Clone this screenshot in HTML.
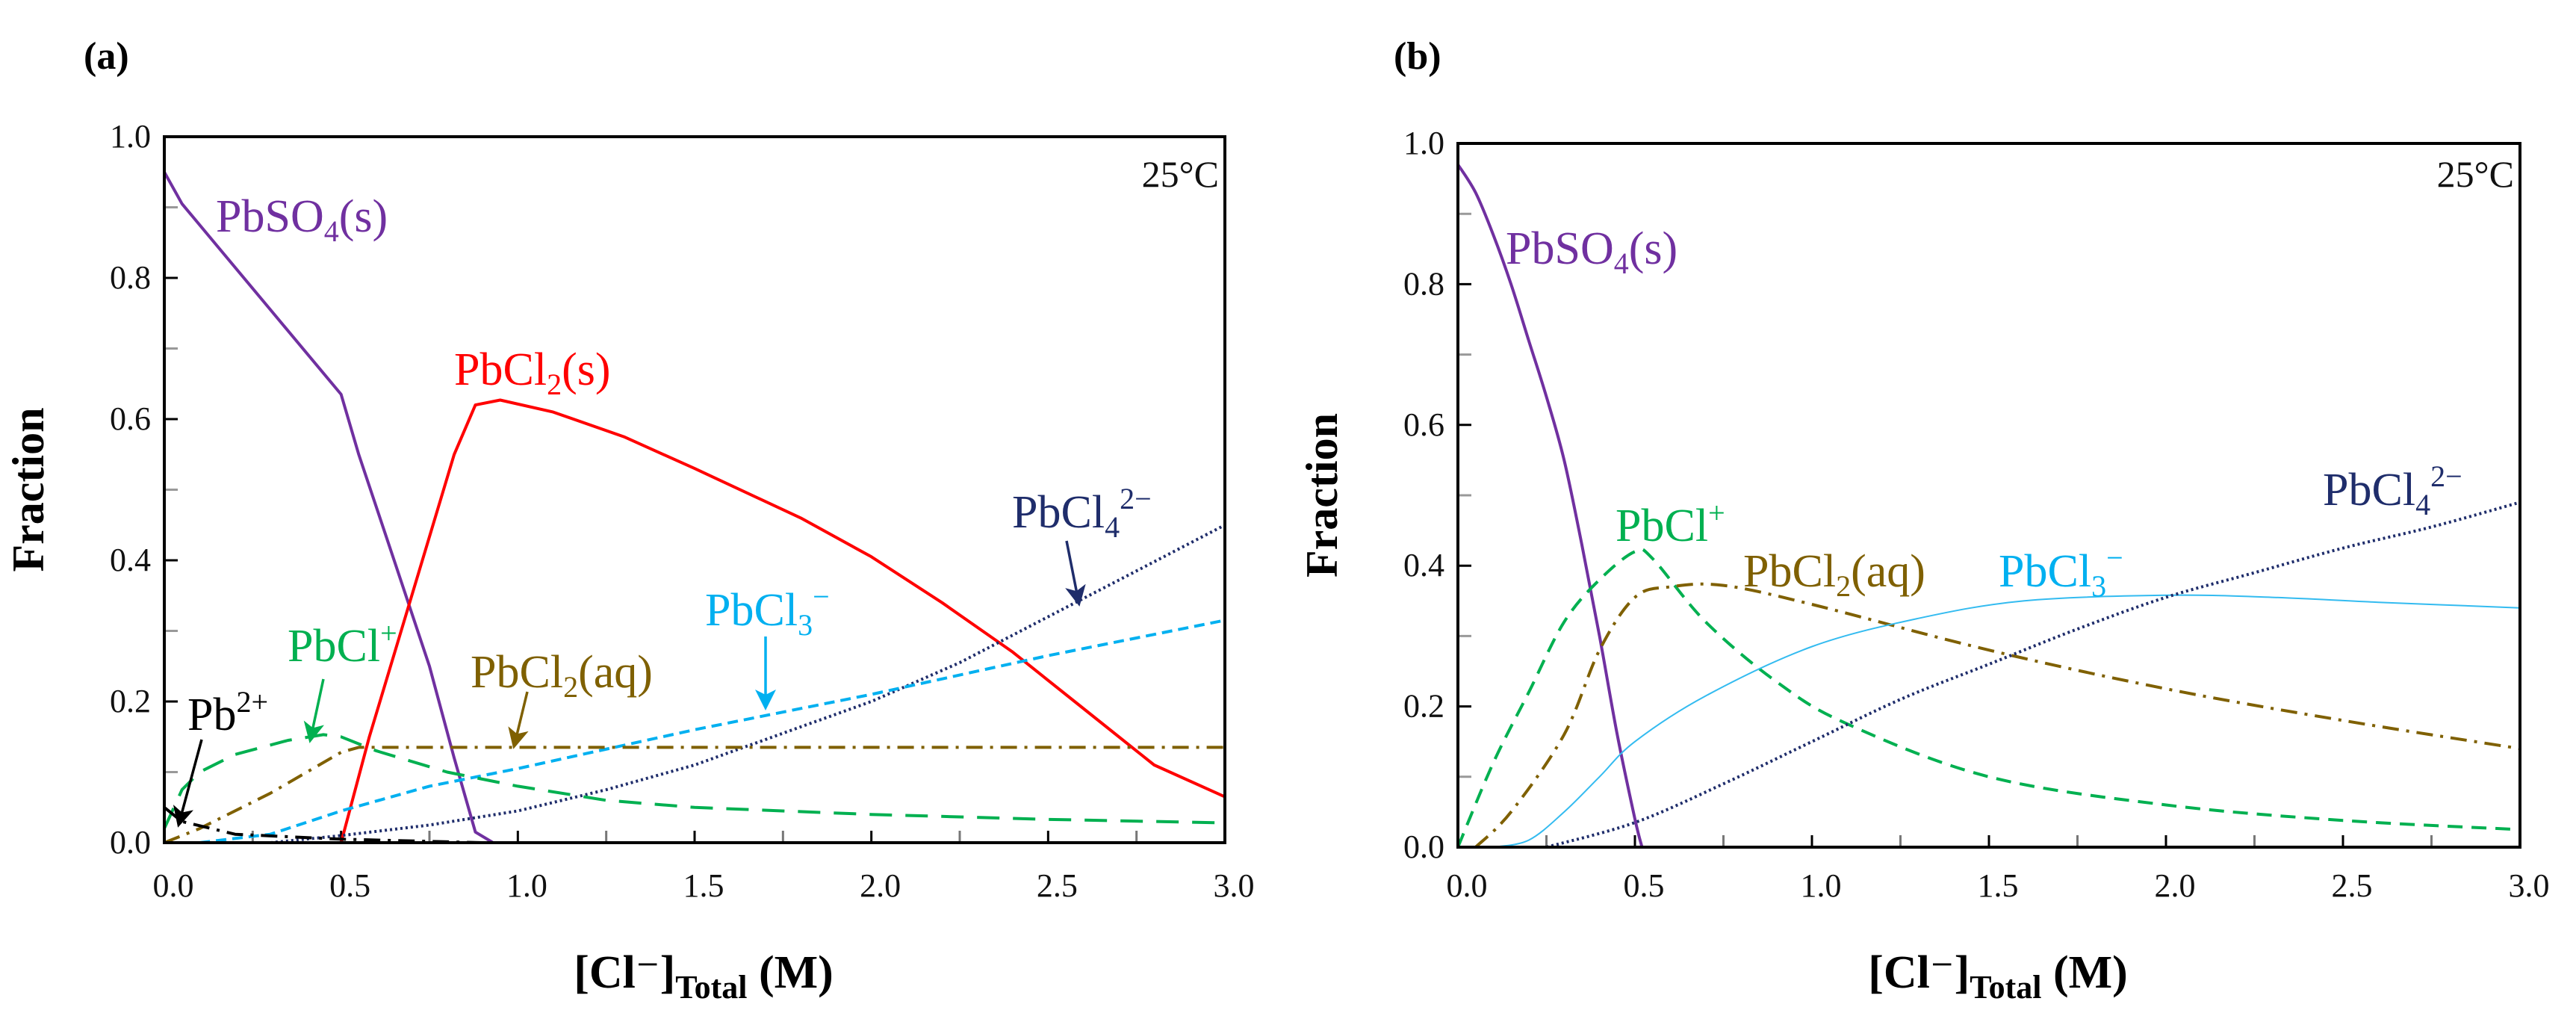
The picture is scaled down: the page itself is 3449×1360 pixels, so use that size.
<!DOCTYPE html>
<html><head><meta charset="utf-8"><style>
html,body{margin:0;padding:0;background:#fff;}
svg{display:block;font-family:"Liberation Serif",serif;}
</style></head><body>
<svg id="fig" width="3449" height="1360" viewBox="0 0 3449 1360" xmlns="http://www.w3.org/2000/svg">
<defs>
<marker id="ah" markerWidth="8" markerHeight="8" refX="6" refY="4" orient="auto" markerUnits="strokeWidth"><path d="M0,0 L8,4 L0,8 L2,4 Z" fill="context-stroke"/></marker>
</defs>
</svg>
<script>
// ---- data: panel (a) ----
const aPbSO4x=[0,0.05,0.15,0.3,0.5,0.55,0.65,0.75,0.82,0.88,0.93];
const aPbSO4y=[0.95,0.905,0.845,0.755,0.635,0.55,0.40,0.25,0.12,0.015,0];
const aPbCl2sx=[0.5,0.58,0.7,0.82,0.88,0.95,1.1,1.3,1.5,1.8,2.0,2.2,2.4,2.6,2.8,3.0];
const aPbCl2sy=[0,0.15,0.35,0.55,0.62,0.627,0.61,0.575,0.53,0.46,0.405,0.34,0.27,0.19,0.11,0.065];
const aPbCl4x=[0.3,0.5,0.75,1.0,1.25,1.5,1.75,2.0,2.25,2.5,2.75,3.0];
const aPbCl4y=[0,0.01,0.025,0.045,0.075,0.11,0.155,0.2,0.255,0.32,0.385,0.45];
const aPbCl3x=[0.1,0.3,0.5,0.75,1.0,1.5,2.0,2.5,3.0];
const aPbCl3y=[0,0.012,0.045,0.08,0.105,0.16,0.21,0.265,0.315];
const aPbClx=[0,0.05,0.1,0.2,0.35,0.45,0.5,0.6,0.8,1.0,1.25,1.5,2.0,2.5,3.0];
const aPbCly=[0.02,0.075,0.1,0.125,0.145,0.153,0.15,0.13,0.1,0.08,0.06,0.05,0.04,0.033,0.028];
const aPbCl2aqx=[0,0.1,0.3,0.5,0.55,3.0];
const aPbCl2aqy=[0,0.02,0.07,0.128,0.135,0.135];
const aPb2x=[0,0.05,0.2,0.5,0.9];
const aPb2y=[0.05,0.03,0.012,0.005,0];
// ---- data: panel (b) ----
const bPbSO4x=[0,0.05,0.1,0.15,0.2,0.25,0.3,0.35,0.4,0.45,0.5,0.52];
const bPbSO4y=[0.97,0.93,0.87,0.80,0.72,0.64,0.55,0.43,0.30,0.16,0.04,0];
const bPbClx=[0,0.1,0.2,0.3,0.4,0.5,0.55,0.7,0.9,1.1,1.5,2.0,2.5,3.0];
const bPbCly=[0,0.12,0.22,0.32,0.38,0.42,0.41,0.32,0.235,0.175,0.1,0.06,0.038,0.025];
const bPbCl2aqx=[0.05,0.15,0.3,0.4,0.5,0.6,0.75,1.0,1.5,2.0,2.5,3.0];
const bPbCl2aqy=[0,0.05,0.16,0.28,0.355,0.37,0.372,0.345,0.28,0.225,0.18,0.14];
const bPbCl3x=[0.1,0.2,0.3,0.4,0.5,0.7,1.0,1.3,1.6,2.0,2.3,2.6,3.0];
const bPbCl3y=[0,0.01,0.05,0.1,0.15,0.215,0.285,0.325,0.35,0.358,0.355,0.348,0.34];
const bPbCl4x=[0.25,0.5,0.75,1.0,1.25,1.5,1.75,2.0,2.25,2.5,2.75,3.0];
const bPbCl4y=[0,0.035,0.09,0.15,0.21,0.26,0.31,0.355,0.39,0.425,0.455,0.49];
const xTicks=["0.0","0.5","1.0","1.5","2.0","2.5","3.0"];
const yTicks=["0.0","0.2","0.4","0.6","0.8","1.0"];

const NS="http://www.w3.org/2000/svg";
const svg=document.getElementById('fig');
function mk(tag,attrs,parent){const e=document.createElementNS(NS,tag);for(const k in attrs)e.setAttribute(k,attrs[k]);(parent||svg).appendChild(e);return e;}
function smoothPath(pts){
  let d='M'+pts[0][0].toFixed(1)+','+pts[0][1].toFixed(1);
  for(let i=0;i<pts.length-1;i++){
    const p0=pts[i-1]||pts[i],p1=pts[i],p2=pts[i+1],p3=pts[i+2]||p2;
    const c1=[p1[0]+(p2[0]-p0[0])/6,p1[1]+(p2[1]-p0[1])/6];
    const c2=[p2[0]-(p3[0]-p1[0])/6,p2[1]-(p3[1]-p1[1])/6];
    d+=` C${c1[0].toFixed(1)},${c1[1].toFixed(1)} ${c2[0].toFixed(1)},${c2[1].toFixed(1)} ${p2[0].toFixed(1)},${p2[1].toFixed(1)}`;
  }
  return d;
}

function panel(P){
  const g=mk('g',{});
  
  
  const sx=v=>P.x0+(P.x1-P.x0)*v/3, sy=v=>P.y1-(P.y1-P.y0)*v;
  for(let i=1;i<12;i++){const x=sx(i*0.25);const t=mk('line',{x1:x,x2:x,y1:P.y1,y2:P.y1-16,stroke:i%2?'#777':'#000','stroke-width':3},g);
    }
  for(let i=1;i<10;i++){const y=sy(i*0.1);const t=mk('line',{x1:P.x0,x2:P.x0+18,y1:y,y2:y,stroke:i%2?'#999':'#000','stroke-width':3},g);
    }
  xTicks.forEach((s,i)=>{const t=mk('text',{x:sx(i*0.5)+12,y:1200,'font-size':44,'text-anchor':'middle',fill:'#111'},g);t.textContent=s;
    });
  yTicks.forEach((s,i)=>{const t=mk('text',{x:P.x0-18,y:sy(i*0.2)+14,'font-size':44,'text-anchor':'end',fill:'#111'},g);t.textContent=s;
    });
  P.series.forEach(S=>{
    const pts=S.x.map((v,i)=>[sx(v),sy(S.y[i])]);
    const d=P.smooth?smoothPath(pts):pts.map((p,i)=>(i?'L':'M')+p[0].toFixed(1)+','+p[1].toFixed(1)).join(' ');
    const p=mk('path',{d:d,fill:'none',stroke:S.c,'stroke-width':S.w||4,'stroke-dasharray':S.dash||'none','stroke-linejoin':'round'},g);
    
    
  });
  const f=mk('rect',{x:P.x0,y:P.y0,width:P.x1-P.x0,height:P.y1-P.y0,fill:'none',stroke:'#000','stroke-width':4},g);
  
  P.labels.forEach(L=>{
    const t=mk('text',{x:L.x,y:L.y,'font-size':L.fs||62,fill:L.c},g);
    t.innerHTML=L.h;
    
    if(L.a){const a=mk('line',{x1:L.a[0],y1:L.a[1],x2:L.a[2],y2:L.a[3],stroke:L.c,'stroke-width':3.5,'marker-end':'url(#ah)'},g);
      }
  });
  const tc=mk('text',{x:P.x1-8,y:250,'font-size':50,'text-anchor':'end',fill:'#111'},g);tc.textContent='25°C';
  
  const pl=mk('text',{x:P.lx,y:92,'font-size':52,'font-weight':'bold',fill:'#000'},g);pl.textContent=P.tag;
  
  const yt=mk('text',{x:0,y:0,'font-size':60,'font-weight':'bold','text-anchor':'middle',transform:`translate(${P.yx},${(P.y0+P.y1)/2}) rotate(-90)`},g);yt.textContent='Fraction';
  
  const xt=mk('text',{x:(P.x0+P.x1)/2+12,y:1322,'font-size':62,'font-weight':'bold','text-anchor':'middle'},g);
  xt.innerHTML='[Cl<tspan font-weight="normal">⁻</tspan>]<tspan font-size="44" dy="14">Total</tspan><tspan dy="-14"> (M)</tspan>';
  
}
const sub=(a,b)=>`${a}<tspan font-size="40" dy="13">${b}</tspan>`;
panel({name:'panel-a',tag:'(a)',lx:112,yx:58,x0:220,x1:1640,y0:183,y1:1128,smooth:false,
 series:[
  {n:'pbso4-line',x:aPbSO4x,y:aPbSO4y,c:'#7030a0'},
  {n:'pbcl2-s-line',x:aPbCl2sx,y:aPbCl2sy,c:'#ff0000'},
  {n:'pbcl4-line',x:aPbCl4x,y:aPbCl4y,c:'#1f2d6b',dash:'3 4'},
  {n:'pbcl3-line',x:aPbCl3x,y:aPbCl3y,c:'#00b0f0',dash:'14 8'},
  {n:'pbcl-line',x:aPbClx,y:aPbCly,c:'#00b050',dash:'30 18'},
  {n:'pbcl2-aq-line',x:aPbCl2aqx,y:aPbCl2aqy,c:'#7f6000',dash:'22 10 4 10'},
  {n:'pb2-line',x:aPb2x,y:aPb2y,c:'#000',dash:'22 10 4 10'}],
 labels:[
  {n:'pbso4-label',x:289,y:310,c:'#7030a0',h:sub('PbSO','4')+'<tspan dy="-13">(s)</tspan>'},
  {n:'pbcl2-s-label',x:608,y:515,c:'#ff0000',h:sub('PbCl','2')+'<tspan dy="-13">(s)</tspan>'},
  {n:'pbcl4-label',x:1355,y:706,c:'#1f2d6b',h:sub('PbCl','4')+'<tspan dy="-38" font-size="40">2−</tspan>',a:[1428,724,1444,805]},
  {n:'pbcl3-label',x:944,y:837,c:'#00b0f0',h:sub('PbCl','3')+'<tspan dy="-38" font-size="40">−</tspan>',a:[1025,852,1025,944]},
  {n:'pbcl-label',x:385,y:885,c:'#00b050',h:'PbCl<tspan dy="-24" font-size="40">+</tspan>',a:[433,909,416,988]},
  {n:'pbcl2-aq-label',x:630,y:920,c:'#7f6000',h:sub('PbCl','2')+'<tspan dy="-13">(aq)</tspan>',a:[706,926,689,996]},
  {n:'pb2-label',x:251,y:977,c:'#000',h:'Pb<tspan dy="-24" font-size="40">2+</tspan>',a:[270,990,240,1101]}]
});
panel({name:'panel-b',tag:'(b)',lx:1866,yx:1790,x0:1952,x1:3374,y0:192,y1:1134,smooth:true,
 series:[
  {n:'pbso4-line',x:bPbSO4x,y:bPbSO4y,c:'#7030a0'},
  {n:'pbcl-line',x:bPbClx,y:bPbCly,c:'#00b050',dash:'20 12'},
  {n:'pbcl2-aq-line',x:bPbCl2aqx,y:bPbCl2aqy,c:'#7f6000',dash:'22 10 4 10'},
  {n:'pbcl3-line',x:bPbCl3x,y:bPbCl3y,c:'#33bbf0',w:2},
  {n:'pbcl4-line',x:bPbCl4x,y:bPbCl4y,c:'#1f2d6b',dash:'3 4'}],
 labels:[
  {n:'pbso4-label',x:2016,y:353,c:'#7030a0',h:sub('PbSO','4')+'<tspan dy="-13">(s)</tspan>'},
  {n:'pbcl-label',x:2163,y:724,c:'#00b050',h:'PbCl<tspan dy="-24" font-size="40">+</tspan>'},
  {n:'pbcl2-aq-label',x:2334,y:785,c:'#7f6000',h:sub('PbCl','2')+'<tspan dy="-13">(aq)</tspan>'},
  {n:'pbcl3-label',x:2676,y:785,c:'#00b0f0',h:sub('PbCl','3')+'<tspan dy="-38" font-size="40">−</tspan>'},
  {n:'pbcl4-label',x:3110,y:676,c:'#1f2d6b',h:sub('PbCl','4')+'<tspan dy="-38" font-size="40">2−</tspan>'}]
});
</script>
</body></html>
